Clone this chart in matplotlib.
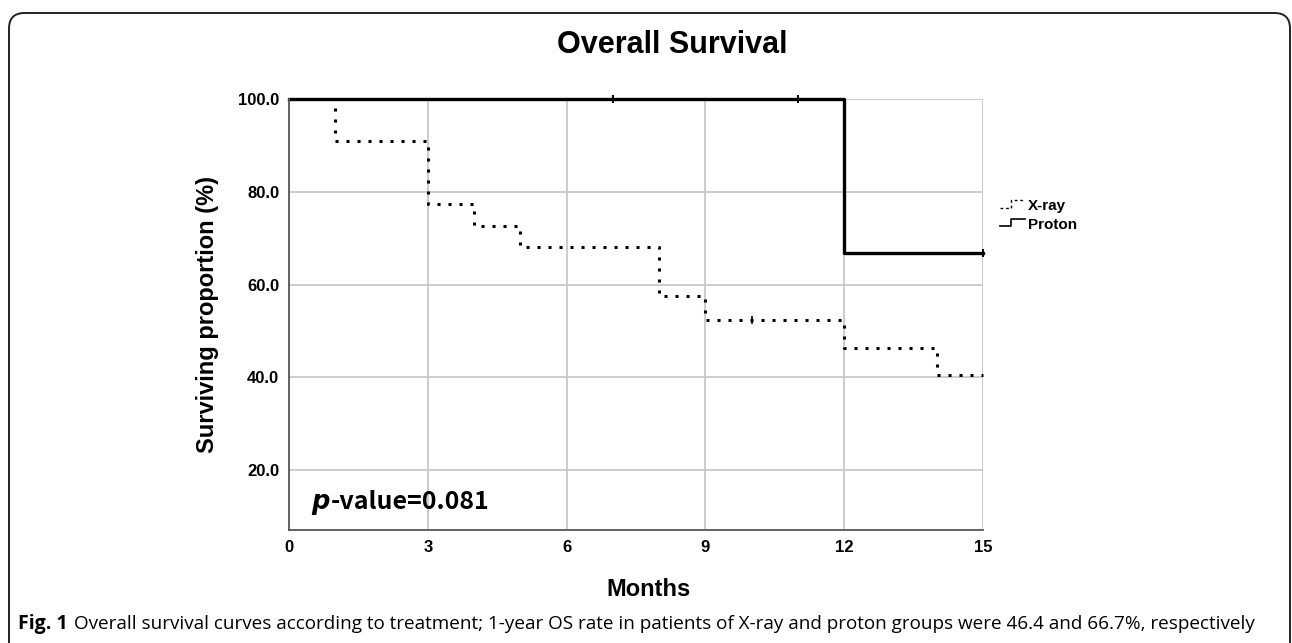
import matplotlib
matplotlib.use("Agg")
import matplotlib.pyplot as plt
from matplotlib.patches import FancyBboxPatch
from matplotlib.legend_handler import HandlerBase
from matplotlib.lines import Line2D
from matplotlib.transforms import offset_copy

# ---- data ----
xray_times = [0, 1, 3, 4, 5, 8, 9, 12, 14, 15]
xray_surv = [100.0, 90.9, 77.3, 72.7, 68.2, 57.6, 52.4, 46.4, 40.6, 40.6]
xray_censor_t = [10]
xray_censor_s = [52.4]

proton_times = [0, 12, 15]
proton_surv = [100.0, 66.7, 66.7]
proton_censor_t = [7, 11, 15]
proton_censor_s = [100.0, 100.0, 66.7]

x_ticks = [0, 3, 6, 9, 12, 15]
y_ticks = [20, 40, 60, 80, 100]
series_names = ["X-ray", "Proton"]

W, H = 1292, 643
fig = plt.figure(figsize=(W / 100, H / 100), dpi=100)

# frame around the figure (open at the bottom)
frame = FancyBboxPatch((9 / W, -0.05), (1290 - 9) / W, (643 - 13) / H + 0.05,
                       boxstyle="round,pad=0,rounding_size=0.012",
                       transform=fig.transFigure, fill=False, ec="#222222", lw=1.4,
                       mutation_aspect=W / H)
fig.patches.append(frame)

ax = fig.add_axes([289 / W, 1 - 530 / H, (983 - 289) / W, (530 - 99) / H])

bold_sans = ["Liberation Sans", "DejaVu Sans"]

ax.step(xray_times, xray_surv, where="post", color="black", lw=2.2,
        linestyle=(0, (1.0, 2.6)), clip_on=False, dash_capstyle="butt")
ax.step(proton_times, proton_surv, where="post", color="black", lw=2.4,
        clip_on=False)
ax.plot(xray_censor_t, xray_censor_s, marker="|", ms=6, mew=1.2, color="black",
        ls="none", clip_on=False)
ax.plot(proton_censor_t, proton_censor_s, marker="|", ms=6, mew=1.4, color="black",
        ls="none", clip_on=False)

ax.set_xlim(0, 15)
ax.set_ylim(7.1, 100)
ax.set_xticks(x_ticks)
ax.set_yticks(y_ticks)
ax.set_xticklabels([str(t) for t in x_ticks], fontfamily=bold_sans, fontweight="bold",
                   fontsize=12)
ax.set_yticklabels([f"{t:.1f}" for t in y_ticks], fontfamily=bold_sans,
                   fontweight="bold", fontsize=12)
ax.tick_params(length=0, pad=7)
ax.grid(True, color="#c8c8c8", lw=1.3)
ax.set_axisbelow(True)
for s in ["top", "right"]:
    ax.spines[s].set_visible(False)
for s in ["left", "bottom"]:
    ax.spines[s].set_color("#555555")
    ax.spines[s].set_linewidth(1.3)

ax.set_ylabel("Surviving proportion (%)", fontfamily=bold_sans,
              fontweight="bold", fontsize=17, labelpad=14)

fig.text(648 / W, 1 - 590 / H, "Months", ha="center", va="center",
         fontfamily=bold_sans, fontweight="bold", fontsize=17)
fig.text(672 / W, 1 - 45 / H, "Overall Survival", ha="center", va="center",
         fontfamily=bold_sans, fontweight="bold", fontsize=22)

# p-value annotation: italic p followed by regular text
fig.canvas.draw()
renderer = fig.canvas.get_renderer()
p_txt = ax.text(0.49, 13.1, "p", ha="left", va="center", fontfamily="DejaVu Sans",
                style="italic", fontweight="bold", fontsize=18.5)
bb = p_txt.get_window_extent(renderer)
rest_tr = offset_copy(ax.transData, fig=fig, x=bb.width * 72 / 100 + 0.5, y=0,
                      units="points")
ax.text(0.49, 13.1, "-value=0.081", ha="left", va="center",
        fontfamily=["Noto Sans CJK KR", "DejaVu Sans"], fontweight="bold",
        fontsize=18, transform=rest_tr)


class StepHandler(HandlerBase):
    def __init__(self, ls, lw):
        super().__init__()
        self.ls = ls
        self.lw = lw

    def create_artists(self, legend, orig_handle, xdescent, ydescent, width,
                       height, fontsize, trans):
        xs = [0, width * 0.45, width * 0.45, width]
        ys = [height * 0.2, height * 0.2, height * 0.9, height * 0.9]
        ln = Line2D([x - xdescent for x in xs], [y - ydescent for y in ys],
                    color="black", lw=self.lw, linestyle=self.ls, transform=trans)
        return [ln]


h1 = Line2D([], [], color="black")
h2 = Line2D([], [], color="black")
leg = ax.legend([h1, h2], series_names, loc="upper left",
                bbox_to_anchor=(1.005, 0.80), frameon=False,
                handler_map={h1: StepHandler((0, (2, 2)), 1.0),
                             h2: StepHandler("-", 1.2)},
                prop={"family": bold_sans, "weight": "bold", "size": 11},
                handlelength=1.6, handletextpad=0.2, labelspacing=0.3)

# caption
cap_y = 1 - 624 / H
fig_txt = fig.text(18 / W, cap_y, "Fig. 1", ha="left", va="center",
                   fontfamily=["Open Sans", "DejaVu Sans"], fontweight="bold",
                   fontsize=14)
caption = ("Overall survival curves according to treatment; 1-year OS rate in patients of "
           "X-ray and proton groups were 46.4 and 66.7%, respectively")
fig.canvas.draw()
fb = fig_txt.get_window_extent(renderer)
start_px = fb.x1 + 6
cap = fig.text(start_px / W, cap_y, caption, ha="left", va="center",
               fontfamily=["Open Sans", "DejaVu Sans"], fontsize=14)
cb = cap.get_window_extent(renderer)
target_w = 1262 - start_px
cap.set_fontsize(14 * target_w / cb.width)

fig.savefig("out.png", dpi=100, facecolor="white")
